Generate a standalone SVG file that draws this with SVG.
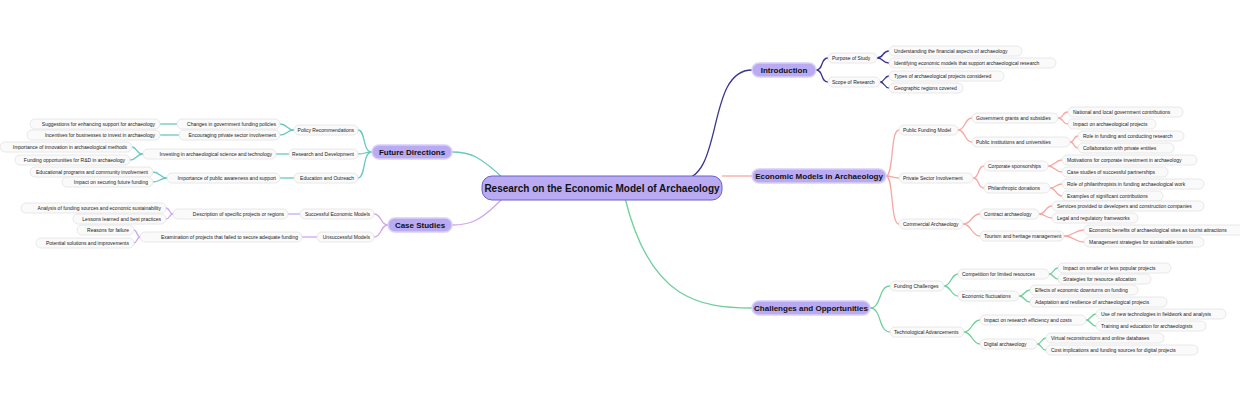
<svg xmlns="http://www.w3.org/2000/svg" width="1240" height="400" viewBox="0 0 1240 400">
<style>
text{font-family:"Liberation Sans",Arial,sans-serif;font-size:5px;fill:#222}
.l rect{fill:#fafafa;stroke:#e2e2e2;stroke-width:0.8}
.m rect{fill:#b9aaf2;stroke:#d8d0fa;stroke-width:1.5}
.m text{font-size:8px;font-weight:bold;text-anchor:middle;fill:#111}
.r text{text-anchor:end}
.c path{fill:none;stroke-width:1.3}
.nv{stroke:#3a3590}.co{stroke:#f6a8a4}.gr{stroke:#6fd09a}.te{stroke:#68c8c4}.pu{stroke:#cfa6ee}
</style>
<rect width="1240" height="400" fill="#fff"/>
<g id="connectors" class="c">
<path class="nv" d="M680 180 C725 180 705 70 752 70"/>
<path class="co" d="M722 176 H752"/>
<path class="gr" d="M625 198 C650 300 700 308 752 308"/>
<path class="te" d="M505 180 C480 156 470 152 452 152"/>
<path class="pu" d="M505 196 C480 222 470 225 452 225"/>
<g class="nv">
<path d="M816 70 C824 70 820 58 828 58"/><path d="M816 70 C824 70 820 82 828 82"/>
<path d="M877 58 C884 58 882 51 889 51"/><path d="M877 58 C884 58 882 63 889 63"/>
<path d="M880 82 C885 82 884 76 889 76"/><path d="M880 82 C885 82 884 88 889 88"/>
</g>
<g class="co">
<path d="M886 176 C894 176 890 130 899 130"/><path d="M886 176 C894 176 890 178 899 178"/><path d="M886 176 C894 176 890 224 899 224"/>
<path d="M958 130 C966 130 964 118 972 118"/><path d="M958 130 C966 130 964 142 972 142"/>
<path d="M973 178 C980 178 977 166 984 166"/><path d="M973 178 C980 178 977 188 984 188"/>
<path d="M963 224 C972 224 971 214 980 214"/><path d="M963 224 C972 224 971 236 980 236"/>
<path d="M1058 118 C1064 118 1062 112 1068 112"/><path d="M1058 118 C1064 118 1062 124 1068 124"/>
<path d="M1070 142 C1075 142 1073 136 1078 136"/><path d="M1070 142 C1075 142 1073 148 1078 148"/>
<path d="M1048 166 C1055 166 1055 160 1062 160"/><path d="M1048 166 C1055 166 1055 172 1062 172"/>
<path d="M1050 188 C1056 188 1056 184 1062 184"/><path d="M1050 188 C1056 188 1056 196 1062 196"/>
<path d="M1039 214 C1046 214 1045 206 1052 206"/><path d="M1039 214 C1046 214 1045 218 1052 218"/>
<path d="M1064 236 C1074 236 1074 230 1084 230"/><path d="M1064 236 C1074 236 1074 242 1084 242"/>
</g>
<g class="gr">
<path d="M870 308 C882 308 878 286 890 286"/><path d="M870 308 C882 308 878 332 890 332"/>
<path d="M944 286 C951 286 951 274 958 274"/><path d="M944 286 C951 286 951 296 958 296"/>
<path d="M964 332 C972 332 972 320 980 320"/><path d="M964 332 C972 332 972 344 980 344"/>
<path d="M1049 274 C1054 274 1053 268 1058 268"/><path d="M1049 274 C1054 274 1053 279 1058 279"/>
<path d="M1019 296 C1025 296 1024 290 1030 290"/><path d="M1019 296 C1025 296 1024 302 1030 302"/>
<path d="M1086 320 C1091 320 1091 314 1096 314"/><path d="M1086 320 C1091 320 1091 326 1096 326"/>
<path d="M1037 344 C1042 344 1041 338 1046 338"/><path d="M1037 344 C1042 344 1041 350 1046 350"/>
</g>
<g class="te">
<path d="M372 152 C362 152 366 130 358 130"/><path d="M372 152 C364 152 366 154 358 154"/><path d="M372 152 C362 152 366 178 358 178"/>
<path d="M294 130 C286 130 288 124 280 124"/><path d="M294 130 C286 130 288 135 280 135"/>
<path d="M289 154 H276"/><path d="M294 178 H280"/>
<path d="M177 124 H160"/><path d="M179 135 H160"/>
<path d="M143 154 C136 154 137 147 132 147"/><path d="M143 154 C136 154 137 160 130 160"/>
<path d="M167 178 C160 178 160 172 153 172"/><path d="M167 178 C160 178 160 182 153 182"/>
</g>
<g class="pu">
<path d="M388 225 C380 225 382 214 374 214"/><path d="M388 225 C380 225 382 237 374 237"/>
<path d="M300 214 H288"/><path d="M317 237 H302"/>
<path d="M173 214 C169 214 170 208 166 208"/><path d="M173 214 C169 214 170 219 166 219"/>
<path d="M140 237 C137 237 137 230 134 230"/><path d="M140 237 C137 237 137 243 134 243"/>
</g>
</g>
<g id="central"><rect x="482" y="176" width="240" height="24" rx="10" fill="#b9aaf2" stroke="#6a60c8" stroke-width="1"/><text x="602" y="191.5" style="font-size:10px;font-weight:bold;text-anchor:middle;fill:#111">Research on the Economic Model of Archaeology</text></g>
<g id="introduction" class="m"><rect x="752" y="63" width="64" height="14" rx="7"/><text x="784" y="72.8">Introduction</text></g>
<g id="economic" class="m"><rect x="752" y="169" width="134" height="14" rx="7"/><text x="819" y="178.8">Economic Models in Archaeology</text></g>
<g id="challenges" class="m"><rect x="752" y="301" width="118" height="14" rx="7"/><text x="811" y="310.8">Challenges and Opportunities</text></g>
<g id="future" class="m"><rect x="372" y="145" width="80" height="14" rx="7"/><text x="412" y="154.8">Future Directions</text></g>
<g id="cases" class="m"><rect x="388" y="218" width="64" height="14" rx="7"/><text x="420" y="227.8">Case Studies</text></g>

<g id="right-nodes" class="l">
<g id="n1"><rect x="828" y="53" width="49" height="10" rx="5"/><text x="832" y="59.8">Purpose of Study</text></g>
<g id="n2"><rect x="828" y="77" width="52" height="10" rx="5"/><text x="832" y="83.8">Scope of Research</text></g>
<g id="n3"><rect x="889" y="46" width="133" height="10" rx="5"/><text x="894" y="52.8">Understanding the financial aspects of archaeology</text></g>
<g id="n4"><rect x="889" y="58" width="167" height="10" rx="5"/><text x="894" y="64.8">Identifying economic models that support archaeological research</text></g>
<g id="n5"><rect x="889" y="71" width="115" height="10" rx="5"/><text x="894" y="77.8">Types of archaeological projects considered</text></g>
<g id="n6"><rect x="889" y="83" width="74" height="10" rx="5"/><text x="894" y="89.8">Geographic regions covered</text></g>

<g id="n7"><rect x="899" y="125" width="59" height="10" rx="5"/><text x="903" y="131.8">Public Funding Model</text></g>
<g id="n8"><rect x="899" y="173" width="74" height="10" rx="5"/><text x="903" y="179.8">Private Sector Involvement</text></g>
<g id="n9"><rect x="899" y="219" width="64" height="10" rx="5"/><text x="903" y="225.8">Commercial Archaeology</text></g>
<g id="n10"><rect x="972" y="113" width="86" height="10" rx="5"/><text x="976" y="119.8">Government grants and subsidies</text></g>
<g id="n11"><rect x="972" y="137" width="98" height="10" rx="5"/><text x="976" y="143.8">Public institutions and universities</text></g>
<g id="n12"><rect x="984" y="161" width="64" height="10" rx="5"/><text x="988" y="167.8">Corporate sponsorships</text></g>
<g id="n13"><rect x="984" y="183" width="66" height="10" rx="5"/><text x="988" y="189.8">Philanthropic donations</text></g>
<g id="n14"><rect x="980" y="209" width="59" height="10" rx="5"/><text x="984" y="215.8">Contract archaeology</text></g>
<g id="n15"><rect x="980" y="231" width="84" height="10" rx="5"/><text x="984" y="237.8">Tourism and heritage management</text></g>
<g id="n16"><rect x="1068" y="107" width="115" height="10" rx="5"/><text x="1073" y="113.8">National and local government contributions</text></g>
<g id="n17"><rect x="1068" y="119" width="88" height="10" rx="5"/><text x="1073" y="125.8">Impact on archaeological projects</text></g>
<g id="n18"><rect x="1078" y="131" width="106" height="10" rx="5"/><text x="1083" y="137.8">Role in funding and conducting research</text></g>
<g id="n19"><rect x="1078" y="143" width="96" height="10" rx="5"/><text x="1083" y="149.8">Collaboration with private entities</text></g>
<g id="n20"><rect x="1062" y="155" width="135" height="10" rx="5"/><text x="1067" y="161.8">Motivations for corporate investment in archaeology</text></g>
<g id="n21"><rect x="1062" y="167" width="106" height="10" rx="5"/><text x="1067" y="173.8">Case studies of successful partnerships</text></g>
<g id="n22"><rect x="1062" y="179" width="142" height="10" rx="5"/><text x="1067" y="185.8">Role of philanthropists in funding archaeological work</text></g>
<g id="n23"><rect x="1062" y="191" width="101" height="10" rx="5"/><text x="1067" y="197.8">Examples of significant contributions</text></g>
<g id="n24"><rect x="1052" y="201" width="152" height="10" rx="5"/><text x="1057" y="207.8">Services provided to developers and construction companies</text></g>
<g id="n25"><rect x="1052" y="213" width="86" height="10" rx="5"/><text x="1057" y="219.8">Legal and regulatory frameworks</text></g>
<g id="n26"><rect x="1084" y="225" width="167" height="10" rx="5"/><text x="1089" y="231.8">Economic benefits of archaeological sites as tourist attractions</text></g>
<g id="n27"><rect x="1084" y="237" width="120" height="10" rx="5"/><text x="1089" y="243.8">Management strategies for sustainable tourism</text></g>

<g id="n28"><rect x="890" y="281" width="54" height="10" rx="5"/><text x="894" y="287.8">Funding Challenges</text></g>
<g id="n29"><rect x="890" y="327" width="74" height="10" rx="5"/><text x="894" y="333.8">Technological Advancements</text></g>
<g id="n30"><rect x="958" y="269" width="91" height="10" rx="5"/><text x="962" y="275.8">Competition for limited resources</text></g>
<g id="n31"><rect x="958" y="291" width="61" height="10" rx="5"/><text x="962" y="297.8">Economic fluctuations</text></g>
<g id="n32"><rect x="980" y="315" width="106" height="10" rx="5"/><text x="984" y="321.8">Impact on research efficiency and costs</text></g>
<g id="n33"><rect x="980" y="339" width="57" height="10" rx="5"/><text x="984" y="345.8">Digital archaeology</text></g>
<g id="n34"><rect x="1058" y="263" width="113" height="10" rx="5"/><text x="1063" y="269.8">Impact on smaller or less popular projects</text></g>
<g id="n35"><rect x="1058" y="274" width="93" height="10" rx="5"/><text x="1063" y="280.8">Strategies for resource allocation</text></g>
<g id="n36"><rect x="1030" y="285" width="108" height="10" rx="5"/><text x="1035" y="291.8">Effects of economic downturns on funding</text></g>
<g id="n37"><rect x="1030" y="297" width="137" height="10" rx="5"/><text x="1035" y="303.8">Adaptation and resilience of archaeological projects</text></g>
<g id="n38"><rect x="1096" y="309" width="130" height="10" rx="5"/><text x="1101" y="315.8">Use of new technologies in fieldwork and analysis</text></g>
<g id="n39"><rect x="1096" y="321" width="110" height="10" rx="5"/><text x="1101" y="327.8">Training and education for archaeologists</text></g>
<g id="n40"><rect x="1046" y="333" width="118" height="10" rx="5"/><text x="1051" y="339.8">Virtual reconstructions and online databases</text></g>
<g id="n41"><rect x="1046" y="345" width="152" height="10" rx="5"/><text x="1051" y="351.8">Cost implications and funding sources for digital projects</text></g>
</g>

<g id="left-nodes" class="l r">
<g id="m1"><rect x="294" y="125" width="64" height="10" rx="5"/><text x="354" y="131.8">Policy Recommendations</text></g>
<g id="m2"><rect x="289" y="149" width="69" height="10" rx="5"/><text x="354" y="155.8">Research and Development</text></g>
<g id="m3"><rect x="294" y="173" width="64" height="10" rx="5"/><text x="354" y="179.8">Education and Outreach</text></g>
<g id="m4"><rect x="177" y="119" width="103" height="10" rx="5"/><text x="276" y="125.8">Changes in government funding policies</text></g>
<g id="m5"><rect x="179" y="130" width="101" height="10" rx="5"/><text x="276" y="136.8">Encouraging private sector involvement</text></g>
<g id="m6"><rect x="143" y="149" width="133" height="10" rx="5"/><text x="272" y="155.8">Investing in archaeological science and technology</text></g>
<g id="m7"><rect x="167" y="173" width="113" height="10" rx="5"/><text x="276" y="179.8">Importance of public awareness and support</text></g>
<g id="m8"><rect x="30" y="119" width="130" height="10" rx="5"/><text x="155" y="125.8">Suggestions for enhancing support for archaeology</text></g>
<g id="m9"><rect x="27" y="130" width="133" height="10" rx="5"/><text x="155" y="136.8">Incentives for businesses to invest in archaeology</text></g>
<g id="m10"><rect x="0" y="142" width="132" height="10" rx="5"/><text x="127" y="148.8">Importance of innovation in archaeological methods</text></g>
<g id="m11"><rect x="15" y="155" width="115" height="10" rx="5"/><text x="125" y="161.8">Funding opportunities for R&amp;D in archaeology</text></g>
<g id="m12"><rect x="30" y="167" width="123" height="10" rx="5"/><text x="148" y="173.8">Educational programs and community involvement</text></g>
<g id="m13"><rect x="62" y="177" width="91" height="10" rx="5"/><text x="148" y="183.8">Impact on securing future funding</text></g>
<g id="m14"><rect x="300" y="209" width="74" height="10" rx="5"/><text x="370" y="215.8">Successful Economic Models</text></g>
<g id="m15"><rect x="317" y="232" width="57" height="10" rx="5"/><text x="370" y="238.8">Unsuccessful Models</text></g>
<g id="m16"><rect x="173" y="209" width="115" height="10" rx="5"/><text x="284" y="215.8">Description of specific projects or regions</text></g>
<g id="m17"><rect x="140" y="232" width="162" height="10" rx="5"/><text x="298" y="238.8">Examination of projects that failed to secure adequate funding</text></g>
<g id="m18"><rect x="21" y="203" width="145" height="10" rx="5"/><text x="161" y="209.8">Analysis of funding sources and economic sustainability</text></g>
<g id="m19"><rect x="73" y="214" width="93" height="10" rx="5"/><text x="161" y="220.8">Lessons learned and best practices</text></g>
<g id="m20"><rect x="77" y="225" width="57" height="10" rx="5"/><text x="129" y="231.8">Reasons for failure</text></g>
<g id="m21"><rect x="36" y="238" width="98" height="10" rx="5"/><text x="129" y="244.8">Potential solutions and improvements</text></g>
</g>
</svg>
